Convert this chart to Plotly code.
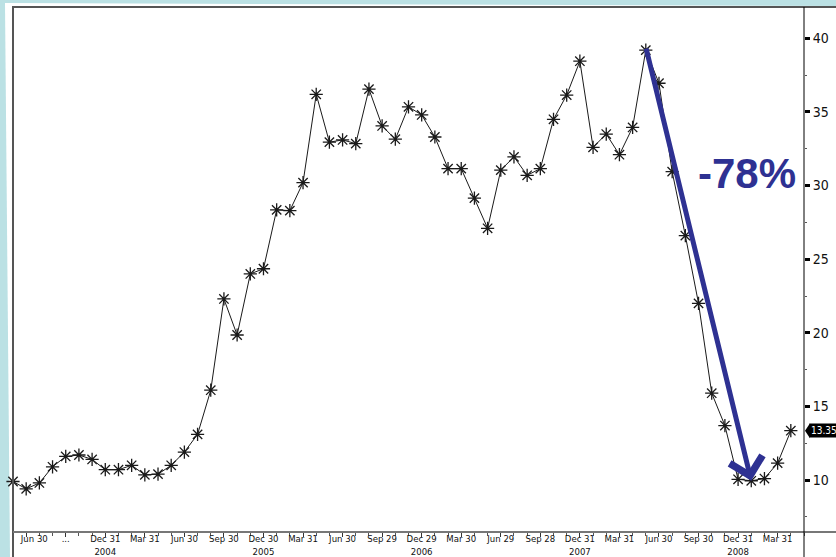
import plotly.graph_objects as go

# Monthly closes, May 2004 .. Apr 2009 (one value per month-end)
values = [
    9.9, 9.4, 9.8, 10.9, 11.6, 11.7, 11.4, 10.7, 10.7, 11.0,
    10.35, 10.4, 11.0, 11.9, 13.1, 16.1, 22.3, 19.85, 24.0, 24.35,
    28.35, 28.3, 30.2, 36.2, 32.95, 33.1, 32.85, 36.55, 34.05, 33.15,
    35.35, 34.8, 33.3, 31.15, 31.15, 29.15, 27.1, 31.05, 31.95, 30.7,
    31.15, 34.5, 36.15, 38.45, 32.6, 33.5, 32.1, 33.95, 39.2, 36.95,
    30.95, 26.6, 22.0, 15.9, 13.7, 10.05, 9.95, 10.1, 11.15, 13.35,
]
x_idx = list(range(len(values)))

# Quarter-end labels (last trading day of each quarter)
NB = "\u00a0"
tick_idx = [1, 4, 7, 10, 13, 16, 19, 22, 25, 28, 31, 34, 37, 40, 43, 46, 49, 52, 55, 58]
tick_text = [
    NB * 6 + "Jun 30", "...", "Dec 31<br>2004", "Mar 31", "Jun 30", "Sep 30",
    "Dec 30<br>2005", "Mar 31", "Jun 30", "Sep 29", "Dec 29<br>2006",
    "Mar 30", "Jun 29", "Sep 28", "Dec 31<br>2007", "Mar 31", "Jun 30",
    "Sep 30", "Dec 31<br>2008", "Mar 31",
]
y_ticks = [10, 15, 20, 25, 30, 35, 40]

peak_i = 48
trough_i = 56
drop_label = "-78%"

BLUE = "#2e3192"
PANEL_BG = "#bbe1e4"
NARROW = ("Liberation Sans Narrow, Arial Narrow, DejaVu Sans Condensed, "
          "Liberation Sans, Arial, sans-serif")

W, H = 836, 557
ML, MR, MT, MB = 13, 32, 7, 25
PW, PH = W - ML - MR, H - MT - MB


def px(xp):
    return (xp - ML) / PW


def py(yp):
    return (H - MB - yp) / PH


fig = go.Figure()
fig.add_trace(go.Scatter(
    x=x_idx, y=values, mode="lines+markers",
    line=dict(color="#1a1a1a", width=1),
    marker=dict(symbol="asterisk-open", size=11,
                line=dict(color="#000000", width=1.3)),
    hoverinfo="skip", showlegend=False, cliponaxis=False,
))

shapes = [
    # white panel on the pale-blue page
    dict(type="path", xref="paper", yref="paper", layer="below",
         path=(f"M{px(5)},{py(3)} L{px(W)},{py(6)} L{px(W)},{py(H)} "
               f"L{px(10)},{py(H)} Z"),
         fillcolor="white", line=dict(width=0)),
    # frame lines
    dict(type="line", xref="paper", yref="paper", x0=px(12), x1=px(W),
         y0=1, y1=1, line=dict(color="#555555", width=2)),
    dict(type="line", xref="paper", yref="paper", x0=0, x1=0,
         y0=py(7), y1=py(H), line=dict(color="#555555", width=2)),
    dict(type="line", xref="paper", yref="paper", x0=0, x1=px(W),
         y0=0, y1=0, line=dict(color="#777777", width=2)),
    dict(type="line", xref="paper", yref="paper", x0=1, x1=1,
         y0=1, y1=py(H), line=dict(color="#000000", width=1)),
    # pointer of the last-value tag
    dict(type="path", xref="paper", xsizemode="pixel", xanchor=1,
         yref="y", ysizemode="pixel", yanchor=values[-1],
         path="M1,0 L6,7.5 L6,-7.5 Z",
         fillcolor="#000000", line=dict(width=0)),
]

annotations = [
    dict(x=trough_i, y=values[trough_i], xref="x", yref="y",
         ax=peak_i, ay=values[peak_i] + 0.2, axref="x", ayref="y",
         showarrow=True, arrowhead=4, arrowsize=1.3, arrowwidth=5,
         arrowcolor=BLUE, text=""),
    dict(x=55.7, y=30.8, xref="x", yref="y", text=f"<b>{drop_label}</b>",
         showarrow=False, font=dict(family="Liberation Sans, Arial",
                                    size=42, color=BLUE)),
    dict(x=1, y=values[-1], xref="paper", yref="y", xanchor="left",
         xshift=5, text=f"{values[-1]:.2f}", showarrow=False,
         bgcolor="#000000", borderpad=1,
         font=dict(family=NARROW, size=10, color="white")),
]

fig.update_layout(
    width=W, height=H,
    margin=dict(l=ML, r=MR, t=MT, b=MB, pad=0, autoexpand=False),
    paper_bgcolor=PANEL_BG, plot_bgcolor="white",
    shapes=shapes, annotations=annotations,
    xaxis=dict(
        range=[0, 60], showgrid=False, zeroline=False, showline=False,
        automargin=False,
        tickmode="array", tickvals=tick_idx, ticktext=tick_text,
        ticks="outside", ticklen=4, tickwidth=1, tickcolor="#333333",
        ticklabelstandoff=-6,
        tickfont=dict(family=NARROW, size=9.5, color="#111111"),
        minor=dict(tickmode="linear", tick0=0, dtick=1, ticks="outside",
                   ticklen=3, tickwidth=1, tickcolor="#555555"),
    ),
    yaxis=dict(
        side="right", range=[6.47, 42.13], showgrid=False, zeroline=False,
        showline=False, automargin=False,
        tickmode="array", tickvals=y_ticks,
        ticks="outside", ticklen=5, tickwidth=2.5, tickcolor="#000000",
        tickfont=dict(family=NARROW, size=14, color="#111111"),
        minor=dict(tickmode="linear", tick0=0, dtick=2.5, ticks="outside",
                   ticklen=2, tickwidth=1, tickcolor="#555555"),
    ),
)

fig.write_html("out.html")
